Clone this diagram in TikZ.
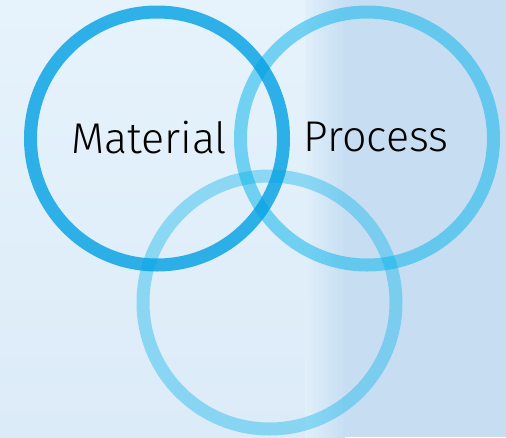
\documentclass[tikz,border=0pt]{standalone}
\usepackage{fontspec}
\newfontfamily\labelfont{Fira Sans Light}
\definecolor{ringblue}{RGB}{0,160,227}
\definecolor{ringlight}{RGB}{0,178,236}
\definecolor{bgtop}{RGB}{230,243,252}
\definecolor{bgbottom}{RGB}{220,235,248}
\definecolor{bgmid}{RGB}{224,239,250}
\definecolor{bgright}{RGB}{199,222,242}
\begin{document}
\begin{tikzpicture}[x=1pt, y=-1pt, very thick]
			\tikzstyle{ring}    = [circle, minimum size=253pt, inner sep=0pt, line width=13pt]
			\tikzstyle{ringA}   = [ring, draw=ringblue, draw opacity=0.8]
			\tikzstyle{ringB}   = [ring, draw=ringlight, draw opacity=0.5]
			\tikzstyle{ringC}   = [ring, draw=ringlight, draw opacity=0.38]
			\tikzstyle{caption} = [inner sep=0pt, font=\labelfont\fontsize{43}{43}\selectfont, text=black]

			% background
			\useasboundingbox (0,0) rectangle (506,437);
			\shade[top color=bgtop, bottom color=bgbottom] (0,0) rectangle (320,437);
			\shade[left color=bgmid, right color=bgright] (305,0) rectangle (345,437);
			\fill[bgright] (345,0) rectangle (506,437);

			\foreach \name/\x/\y/\styl in {bottom/269.5/302.5/C, process/367/138.5/B, material/157/138.5/A}
				\node[ring\styl] (\name) at (\x, \y) {};

			\node[caption] (materialtext) at (149, 138) {Material};
			\node[caption] (processtext)  at (376, 137) {Process};

		\end{tikzpicture}
\end{document}
